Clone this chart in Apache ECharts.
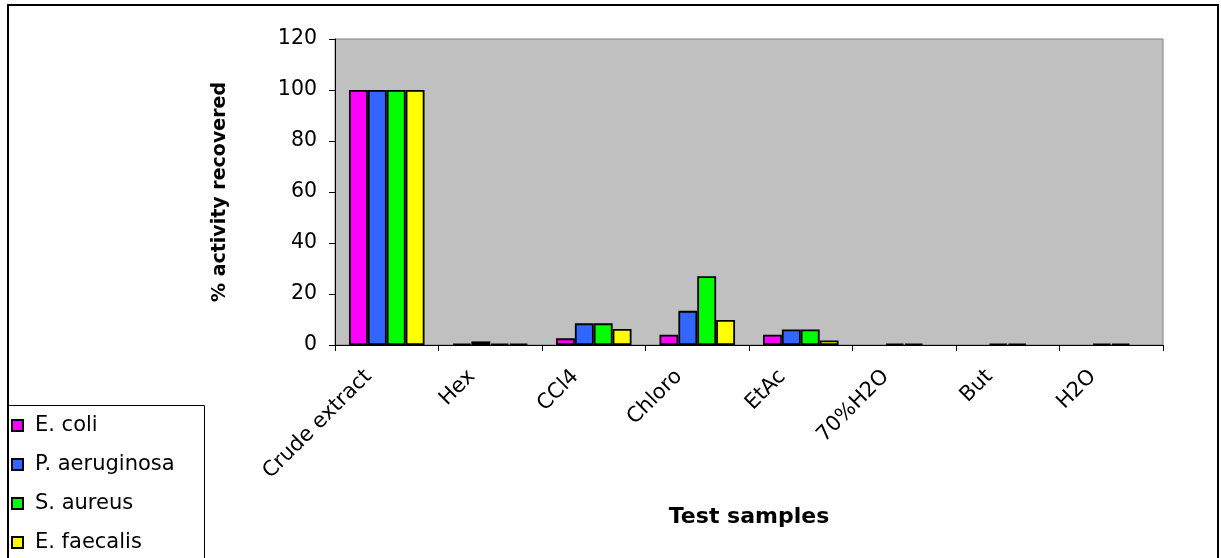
<!DOCTYPE html>
<html>
<head>
<meta charset="utf-8">
<script src="https://cdn.jsdelivr.net/npm/echarts@6/dist/echarts.min.js"></script>
<style>html,body{margin:0;padding:0;background:#fff;}#c{width:1221px;height:558px;}</style>
</head>
<body>
<div id="c"></div>
<script>
const categories = ['Crude extract', 'Hex', 'CCl4', 'Chloro', 'EtAc', '70%H2O', 'But', 'H2O'];
const seriesNames = ['E. coli', 'P. aeruginosa', 'S. aureus', 'E. faecalis'];
const eColi = [100, 0.5, 2.6, 4, 4, null, null, null];
const pAeruginosa = [100, 1.4, 8.5, 13.4, 6.1, 0.5, 0.5, 0.5];
const sAureus = [100, 0.5, 8.5, 27, 6.1, 0.5, 0.5, 0.5];
const eFaecalis = [100, 0.5, 6.3, 9.8, 1.8, null, null, null];
const yTicks = { min: 0, max: 120, interval: 20 };
const colors = ['#FF00FF', '#3366FF', '#00FF00', '#FFFF00'];
const values = [eColi, pAeruginosa, sAureus, eFaecalis];

const chart = echarts.init(document.getElementById('c'), null, { renderer: 'canvas' });
const font = '"DejaVu Sans", Arial, sans-serif';
chart.setOption({
  animation: false,
  backgroundColor: '#fff',
  textStyle: { fontFamily: font },
  graphic: [
    { type: 'rect', shape: { x: 8, y: 5, width: 1210, height: 600 }, style: { fill: 'none', stroke: '#000', lineWidth: 2 }, z: 100 },
    { type: 'rect', shape: { x: 8.5, y: 405.5, width: 196, height: 160 }, style: { fill: '#fff', stroke: '#000', lineWidth: 1 }, z: 0 }
  ],
  grid: { left: 335, right: 58, top: 39, bottom: 213, show: true, backgroundColor: '#C0C0C0', borderColor: '#808080', borderWidth: 1 },
  legend: {
    orient: 'vertical', left: 11, top: 415, height: 220, padding: 0, itemGap: 18, itemWidth: 11, itemHeight: 11, icon: 'rect',
    textStyle: { fontSize: 21, color: '#000', fontFamily: font, padding: [0, 0, 0, 7] },
    data: seriesNames, z: 10
  },
  xAxis: {
    type: 'category', data: categories,
    name: 'Test samples', nameLocation: 'middle', nameGap: 161,
    nameTextStyle: { fontSize: 22, fontWeight: 'bold', color: '#000', fontFamily: font },
    axisLine: { lineStyle: { color: '#000', width: 1 } },
    axisTick: { show: true, length: 6, lineStyle: { color: '#000' }, alignWithLabel: false },
    axisLabel: { rotate: 45, fontSize: 21, color: '#000', fontFamily: font, margin: 10, interval: 0, padding: [0, 26, 0, 0] },
    splitLine: { show: false }
  },
  yAxis: {
    type: 'value', min: yTicks.min, max: yTicks.max, interval: yTicks.interval,
    name: '% activity recovered', nameLocation: 'middle', nameGap: 105,
    nameTextStyle: { fontSize: 19, fontWeight: 'bold', color: '#000', fontFamily: font },
    axisLine: { show: true, lineStyle: { color: '#000', width: 1 } },
    axisTick: { show: true, length: 6, lineStyle: { color: '#000' } },
    axisLabel: { fontSize: 20.5, color: '#000', fontFamily: font, margin: 18 },
    splitLine: { show: false }
  },
  series: seriesNames.map((n, i) => ({
    name: n, type: 'bar', data: values[i],
    barGap: '0%', barCategoryGap: '27%',
    itemStyle: { color: colors[i], borderColor: '#000', borderWidth: 1.8 }
  }))
});
</script>
</body>
</html>
